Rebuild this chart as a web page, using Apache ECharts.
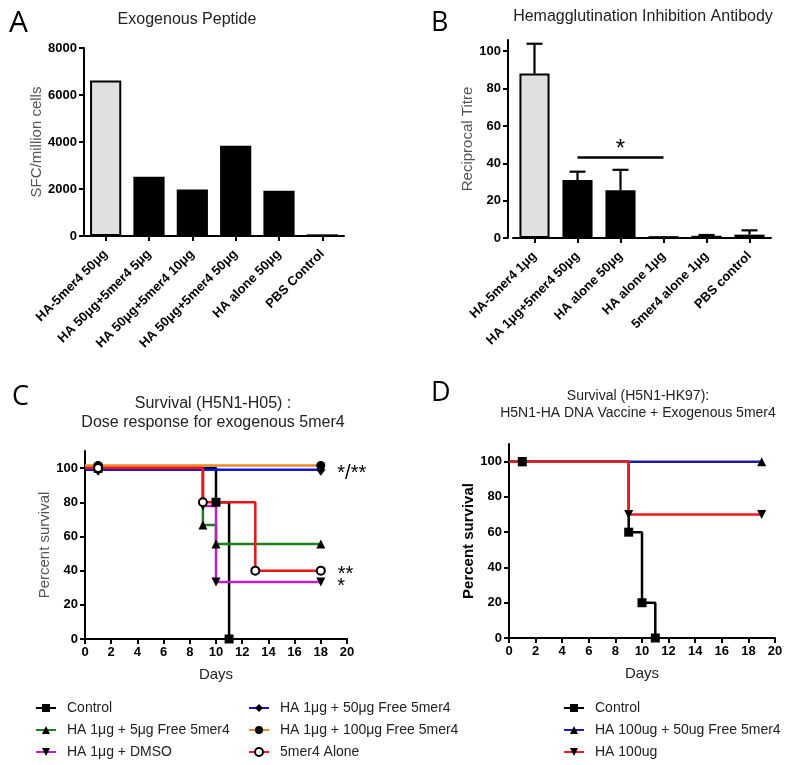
<!DOCTYPE html>
<html><head><meta charset="utf-8">
<script src="https://cdn.jsdelivr.net/npm/echarts@6/dist/echarts.min.js"></script>
<style>html,body{margin:0;padding:0;background:#fff}#c{width:790px;height:765px}</style>
</head><body><div id="c"></div>
<script>
// ---------- DATA ----------
// Panel A
const catsA = ['HA-5mer4 50μg', 'HA 50μg+5mer4 5μg', 'HA 50μg+5mer4 10μg', 'HA 50μg+5mer4 50μg', 'HA alone 50μg', 'PBS Control'];
const valsA = [6620, 2520, 1980, 3840, 1930, 70];
const yTicksA = [0, 2000, 4000, 6000, 8000];
// Panel B
const catsB = ['HA-5mer4 1μg', 'HA 1μg+5mer4 50μg', 'HA alone 50μg', 'HA alone 1μg', '5mer4 alone 1μg', 'PBS control'];
const valsB = [88, 31, 25.5, 1, 1.2, 1.8];
const errB = [16, 4.5, 11, 0, 0.4, 2.3];
const yTicksB = [0, 20, 40, 60, 80, 100];
const sigB = {from: 1, to: 3, level: 43, text: '*'};
// Panel C (Kaplan-Meier, [day, percent])
const cControl = [[0, 100], [1, 100], [10, 80], [11, 0]];
const c5ug = [[0, 100], [1, 100], [9, 66.7], [10, 55.6], [18, 55.6]];
const cDMSO = [[0, 100], [1, 100], [9, 77.8], [10, 33.3], [18, 33.3]];
const c50ug = [[0, 99], [1, 99], [18, 99]];
const c100ug = [[0, 101.5], [1, 101.5], [18, 101.5]];
const cAlone = [[0, 100], [1, 100], [9, 80], [13, 40], [18, 40]];
const annC = {'HA 1μg + 50μg Free 5mer4': '*/**', '5mer4 Alone': '**', 'HA 1μg + DMSO': '*'};
// Panel D
const dControl = [[0, 100], [1, 100], [9, 60], [10, 20], [11, 0]];
const dFree = [[0, 100], [1, 100], [19, 100]];
const dHA = [[0, 100], [1, 100], [9, 70], [19, 70]];
const survTicks = [0, 20, 40, 60, 80, 100];

// ---------- STYLE ----------
const F = "'Liberation Sans', Arial, sans-serif";
const plain = v => String(v);
const tickLbl = {fontFamily: F, fontWeight: 'bold', fontSize: 13, color: '#000'};
const axLine = {show: true, onZero: false, lineStyle: {color: '#000', width: 2}};
const axTick = {show: true, length: 5, lineStyle: {color: '#000', width: 2}};

function surv(name, data, color, symbol, gi, extra) {
  const ann = annC[name];
  return Object.assign({
    type: 'line', name: name, xAxisIndex: gi, yAxisIndex: gi, step: 'end',
    data: data.map((p, i) => {
      if (i === 0) return {value: p, symbol: 'none'};
      if (gi === 2 && ann && i === data.length - 1) {
        return {value: p, label: {show: true, position: 'right', distance: 12, formatter: ann,
          fontFamily: F, fontSize: 20, color: '#000', offset: [0, 4]}};
      }
      return p;
    }),
    symbol: symbol, symbolSize: 9, showAllSymbol: true,
    lineStyle: {color: color, width: 2.5},
    itemStyle: {color: '#000'},
    emphasis: {disabled: true},
    clip: false
  }, extra || {});
}

const legendBase = {
  orient: 'vertical', top: 701, padding: 0, itemGap: 8, itemWidth: 20, itemHeight: 10,
  selectedMode: false,
  textStyle: {fontFamily: F, fontSize: 14, color: '#222', padding: [0, 0, 0, 6]}
};

const option = {
  animation: false,
  backgroundColor: '#fff',
  title: [
    {text: 'A', left: 9, top: 8, padding: 0, textStyle: {fontFamily: "'Open Sans', sans-serif", fontWeight: 'normal', fontSize: 30, color: '#000'}},
    {text: 'B', left: 431, top: 10, padding: 0, textStyle: {fontFamily: "'Open Sans', sans-serif", fontWeight: 'normal', fontSize: 27, color: '#000'}},
    {text: 'C', left: 12, top: 384, padding: 0, textStyle: {fontFamily: "'Open Sans', sans-serif", fontWeight: 'normal', fontSize: 27, color: '#000'}},
    {text: 'D', left: 431, top: 380, padding: 0, textStyle: {fontFamily: "'Open Sans', sans-serif", fontWeight: 'normal', fontSize: 27, color: '#000'}},
    {text: 'Exogenous Peptide', left: 187, top: 12, padding: 0, textAlign: 'center', textStyle: {fontFamily: F, fontWeight: 'normal', fontSize: 16, color: '#222'}},
    {text: 'Hemagglutination Inhibition Antibody', left: 643, top: 9, padding: 0, textAlign: 'center', textStyle: {fontFamily: F, fontWeight: 'normal', fontSize: 16, color: '#222'}},
    {text: 'Survival (H5N1-H05) :\nDose response for exogenous 5mer4', left: 213, top: 394, padding: 0, textAlign: 'center', textStyle: {fontFamily: F, fontWeight: 'normal', fontSize: 16, lineHeight: 19, color: '#222'}},
    {text: 'Survival (H5N1-HK97):\nH5N1-HA DNA Vaccine + Exogenous 5mer4', left: 638, top: 388, padding: 0, textAlign: 'center', textStyle: {fontFamily: F, fontWeight: 'normal', fontSize: 14, lineHeight: 17, color: '#222'}}
  ],
  grid: [
    {left: 84, top: 48, width: 260, height: 188, outerBoundsMode: 'none'},
    {left: 513, top: 40, width: 258, height: 198, outerBoundsMode: 'none'},
    {left: 85, top: 451, width: 262, height: 188, outerBoundsMode: 'none'},
    {left: 509, top: 444, width: 266, height: 194, outerBoundsMode: 'none'}
  ],
  xAxis: [
    {type: 'category', gridIndex: 0, data: catsA, axisLine: axLine,
     axisTick: Object.assign({alignWithLabel: true}, axTick),
     axisLabel: Object.assign({rotate: 45, interval: 0, margin: 16}, tickLbl), splitLine: {show: false}},
    {type: 'category', gridIndex: 1, data: catsB, axisLine: axLine,
     axisTick: Object.assign({alignWithLabel: true}, axTick),
     axisLabel: Object.assign({rotate: 45, interval: 0, margin: 16}, tickLbl), splitLine: {show: false}},
    {type: 'value', gridIndex: 2, min: 0, max: 20, interval: 2, axisLine: axLine, axisTick: axTick,
     axisLabel: Object.assign({margin: 7, formatter: plain}, tickLbl), splitLine: {show: false},
     name: 'Days', nameLocation: 'middle', nameGap: 28, nameTextStyle: {fontFamily: F, fontSize: 15, color: '#222'}},
    {type: 'value', gridIndex: 3, min: 0, max: 20, interval: 2, axisLine: axLine, axisTick: axTick,
     axisLabel: Object.assign({margin: 7, formatter: plain}, tickLbl), splitLine: {show: false},
     name: 'Days', nameLocation: 'middle', nameGap: 28, nameTextStyle: {fontFamily: F, fontSize: 15, color: '#222'}}
  ],
  yAxis: [
    {type: 'value', gridIndex: 0, min: 0, max: 8000, interval: 2000, axisLine: axLine, axisTick: axTick,
     axisLabel: Object.assign({margin: 7, formatter: plain}, tickLbl), splitLine: {show: false},
     name: 'SFC/million cells', nameLocation: 'middle', nameGap: 39, nameTextStyle: {fontFamily: F, fontSize: 15, color: '#555'}},
    {type: 'value', gridIndex: 1, min: 0, max: 106, interval: 20, offset: 5, axisLine: axLine,
     axisTick: Object.assign({customValues: yTicksB}, axTick),
     axisLabel: Object.assign({margin: 7, customValues: yTicksB, formatter: plain}, tickLbl), splitLine: {show: false},
     name: 'Reciprocal Titre', nameLocation: 'middle', nameGap: 28, nameTextStyle: {fontFamily: F, fontSize: 15, color: '#555'}},
    {type: 'value', gridIndex: 2, min: 0, max: 110, interval: 20, axisLine: axLine,
     axisTick: Object.assign({customValues: survTicks}, axTick),
     axisLabel: Object.assign({margin: 7, customValues: survTicks, formatter: plain}, tickLbl), splitLine: {show: false},
     name: 'Percent survival', nameLocation: 'middle', nameGap: 32, nameTextStyle: {fontFamily: F, fontSize: 15, color: '#555'}},
    {type: 'value', gridIndex: 3, min: 0, max: 110, interval: 20, axisLine: axLine,
     axisTick: Object.assign({customValues: survTicks}, axTick),
     axisLabel: Object.assign({margin: 7, customValues: survTicks, formatter: plain}, tickLbl), splitLine: {show: false},
     name: 'Percent survival', nameLocation: 'middle', nameGap: 33, nameTextStyle: {fontFamily: F, fontSize: 15, fontWeight: 'bold', color: '#000'}}
  ],
  legend: [
    Object.assign({left: 35, data: ['Control', 'HA 1μg + 5μg Free 5mer4', 'HA 1μg + DMSO']}, legendBase),
    Object.assign({left: 248, data: ['HA 1μg + 50μg Free 5mer4', 'HA 1μg + 100μg Free 5mer4', '5mer4 Alone']}, legendBase),
    Object.assign({left: 563, data: ['Control', 'HA 100ug + 50ug Free 5mer4', 'HA 100ug']}, legendBase)
  ],
  series: [
    {type: 'bar', name: 'SFC', xAxisIndex: 0, yAxisIndex: 0, barWidth: '72%',
     data: valsA.map((v, i) => i === 0 ? {value: v, itemStyle: {color: '#e0e0e0', borderColor: '#000', borderWidth: 2}} : v),
     itemStyle: {color: '#000'}, emphasis: {disabled: true}},
    {type: 'bar', name: 'HI', xAxisIndex: 1, yAxisIndex: 1, barWidth: '70%',
     data: valsB.map((v, i) => i === 0 ? {value: v, itemStyle: {color: '#e0e0e0', borderColor: '#000', borderWidth: 2}} : v),
     itemStyle: {color: '#000'}, emphasis: {disabled: true},
     markLine: {silent: true, symbol: ['none', 'none'], animation: false,
       lineStyle: {color: '#000', width: 2.5, type: 'solid'},
       label: {show: true, position: 'middle', formatter: sigB.text, fontFamily: F, fontSize: 24, color: '#000', distance: -4},
       data: [[{coord: [sigB.from, sigB.level]}, {coord: [sigB.to, sigB.level]}]]}},
    {type: 'custom', name: 'HI err', xAxisIndex: 1, yAxisIndex: 1, z: 5,
     data: valsB.map((v, i) => [i, v, errB[i]]),
     encode: {x: 0, y: 1},
     renderItem: function (params, api) {
       const x = api.value(0), v = api.value(1), e = api.value(2);
       if (!e) return null;
       const p0 = api.coord([x, v]);
       const p1 = api.coord([x, v + e]);
       const st = {stroke: '#000', lineWidth: 2.2};
       return {type: 'group', children: [
         {type: 'line', shape: {x1: p0[0], y1: p0[1], x2: p1[0], y2: p1[1]}, style: st},
         {type: 'line', shape: {x1: p1[0] - 8, y1: p1[1], x2: p1[0] + 8, y2: p1[1]}, style: st}
       ]};
     }},
    surv('Control', cControl, '#000000', 'rect', 2),
    surv('HA 1μg + 5μg Free 5mer4', c5ug, '#1f7f1f', 'triangle', 2),
    surv('HA 1μg + DMSO', cDMSO, '#c020c0', 'triangle', 2, {symbolRotate: 180}),
    surv('HA 1μg + 50μg Free 5mer4', c50ug, '#1414d8', 'diamond', 2, {symbolSize: [9, 12]}),
    surv('HA 1μg + 100μg Free 5mer4', c100ug, '#f08a28', 'circle', 2),
    surv('5mer4 Alone', cAlone, '#ee1414', 'emptyCircle', 2, {symbolSize: 8}),
    surv('Control', dControl, '#000000', 'rect', 3),
    surv('HA 100ug + 50ug Free 5mer4', dFree, '#1c1ca8', 'triangle', 3),
    surv('HA 100ug', dHA, '#ee1c1c', 'triangle', 3, {symbolRotate: 180})
  ]
};

const chart = echarts.init(document.getElementById('c'), null, {renderer: 'canvas', width: 790, height: 765});
chart.setOption(option);
</script>
</body></html>
